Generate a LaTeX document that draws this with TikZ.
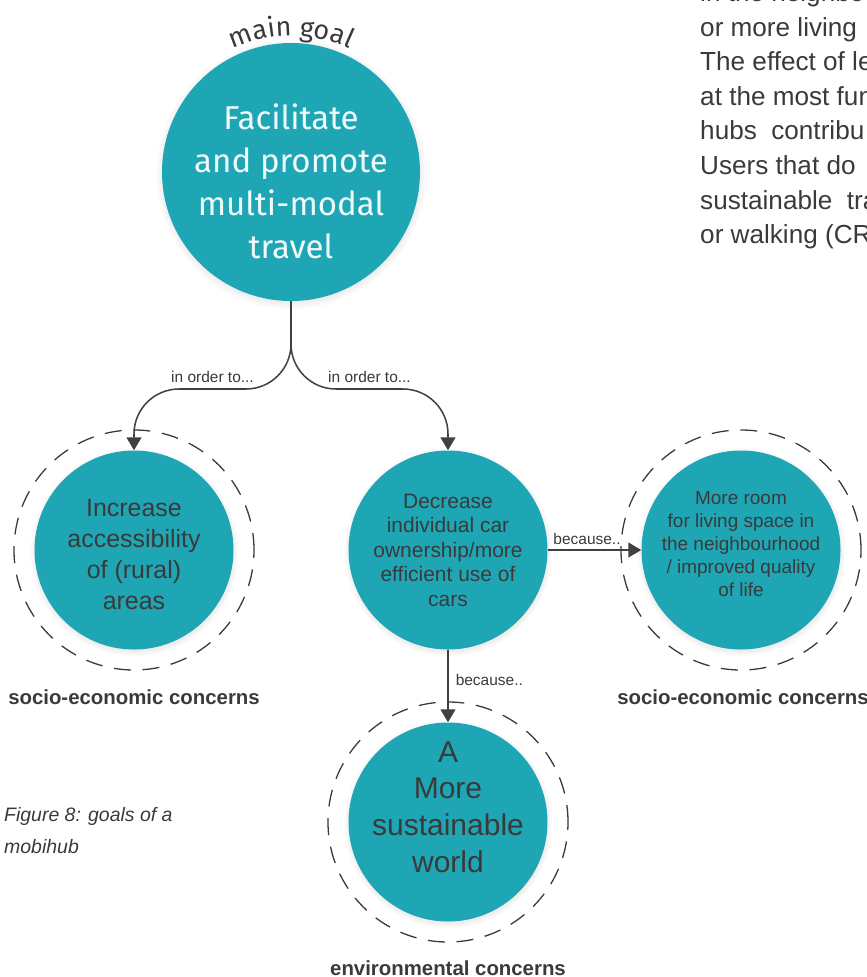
\documentclass[tikz,border=0pt]{standalone}
\usepackage{fontspec}
\setmainfont{Liberation Sans}
\newfontfamily\dinfont{Fira Sans}
\usetikzlibrary{arrows.meta,shadows,decorations.text,calc}
\definecolor{goalteal}{HTML}{1FA6B5}
\definecolor{inktext}{HTML}{3A3A3A}
\definecolor{inkline}{HTML}{404040}
\def\fsz#1#2{\fontsize{#1}{#2}\selectfont}

\tikzset{
  goal/.style={circle, fill=goalteal, inner sep=0pt, minimum size=5.97cm,
    circular drop shadow={shadow scale=1.05, shadow xshift=0pt, shadow yshift=-1.5pt, opacity=0.35}},
  goaltext/.style={align=center, text=inktext, inner sep=0pt},
  ring/.style={circle, draw=inktext, line width=1.1pt, dash pattern=on 14.5pt off 10pt,
    minimum size=7.2cm, inner sep=0pt},
  link/.style={draw=inkline, line width=1.3pt, -{Triangle[width=0.45cm,length=0.39cm]}},
  linklabel/.style={text=inktext, font=\fsz{13.2}{15}, inner sep=2pt},
  concern/.style={text=inktext, font=\bfseries\fsz{17.4}{20}}
}

\begin{document}
\begin{tikzpicture}[x=0.03cm, y=0.03cm]
  %%%%% FRAME %%%%%
  \useasboundingbox (0,0) rectangle (867,-977);
  \clip (0,0) rectangle (867,-977);

  %%%%% TEXT COLUMN %%%%%
  \node[anchor=base west, align=left, inner sep=0pt, text=inktext, font=\fsz{22.3}{29.5}] (column) at (700,-243.6)
    {in the neighbou\\or more living\\The effect of le\\at the most fun\\hubs\ \ contribu\\Users that do\ \\sustainable\ \ tra\\or walking (CR};

  %%%%% GOALS %%%%%
  \node[goal, minimum size=7.74cm,
    label={[goaltext, text=white!94!goalteal, font=\dinfont\fsz{28.2}{36.7}, yshift=-0.27cm]center:Facilitate\\and promote\\multi-modal\\travel}] (main) at (291,-172) {};
  \path[decorate, decoration={text along path, text align=center, text color=inktext,
    text={|\dinfont\fsz{23}{26}|main goal}}] ($(main)+(150:136)$) arc[start angle=150, end angle=30, radius=136];

  \node[goal, label={[goaltext, font=\fsz{21.3}{26.5}, yshift=-0.13cm]center:Increase\\accessibility\\of (rural)\\areas}] (access) at (134,-550) {};
  \node[ring] (accessring) at (access) {};

  \node[goal, label={[goaltext, font=\fsz{17.9}{20.9}]center:Decrease\\individual car\\ownership/more\\efficient use of\\cars}] (carown) at (448,-550) {};

  \node[goal, label={[goaltext, font=\fsz{16.2}{19.6}, yshift=0.19cm]center:More room\\for living space in\\the neighbourhood\\/ improved quality\\of life}] (living) at (741,-550) {};
  \node[ring] (livingring) at (living) {};

  \node[goal, label={[goaltext, font=\fsz{25.6}{31.2}, yshift=0.45cm]center:A\\More\\sustainable\\world}] (world) at (448,-822) {};
  \node[ring] (worldring) at (world) {};

  %%%%% CONCERNS %%%%%
  \node[concern] (accesslbl) at (134,-697) {socio-economic concerns};
  \node[concern] (livinglbl) at (743,-697) {socio-economic concerns};
  \node[concern] (worldlbl) at (448,-968) {environmental concerns};

  %%%%% LINKS %%%%%
  \draw[link, rounded corners=1.35cm] (main.south) -- (291,-389) -- node[linklabel, above=3pt] {in order to...} (134,-389) -- (access.north);
  \draw[link, rounded corners=1.35cm] (main.south) -- (291,-389) -- node[linklabel, above=3pt] {in order to...} (448,-389) -- (carown.north);
  \draw[link] (carown.east) -- node[linklabel, above=2pt, pos=0.42] {because..} (living.west);
  \draw[link] (carown.south) -- node[linklabel, right=4pt, pos=0.42] {because..} (world.north);

  %%%%% CAPTION %%%%%
  \node[anchor=base west, align=left, inner sep=0pt, text=inktext, font=\itshape\fsz{16.6}{27.3}] (caption) at (4,-853)
    {Figure 8: goals of a\\mobihub};
\end{tikzpicture}
\end{document}
